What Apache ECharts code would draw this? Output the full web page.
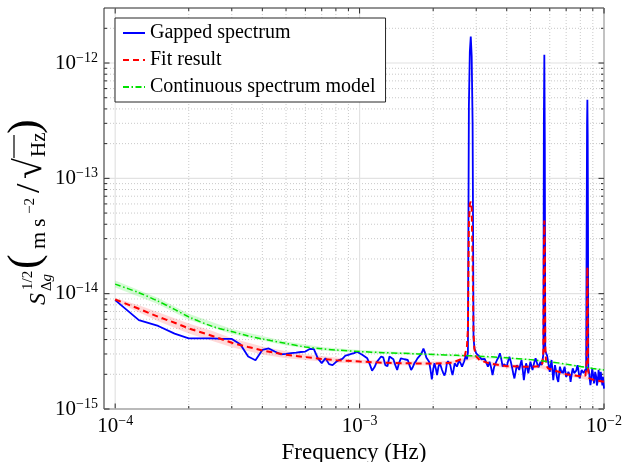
<!DOCTYPE html>
<html>
<head>
<meta charset="utf-8">
<script src="https://cdn.jsdelivr.net/npm/echarts@6/dist/echarts.min.js"></script>
<style>
  html, body { margin: 0; padding: 0; background: #fff; }
  #chart { width: 624px; height: 462px; }
</style>
</head>
<body>
<div id="chart"></div>
<script>
// frequencies in mHz, amplitudes in units of 1e-15 m s^-2 / sqrt(Hz)
var gapFreq = [
  0.100,0.125,0.150,0.175,0.200,0.225,0.250,0.275,0.300,0.325,
  0.350,0.375,0.400,0.425,0.450,0.475,0.500,0.525,0.550,0.575,
  0.600,0.625,0.650,0.675,0.700,0.725,0.750,0.775,0.800,0.825,
  0.850,0.875,0.900,0.925,0.950,0.975,1.000,1.025,1.050,1.075,
  1.100,1.125,1.150,1.175,1.200,1.225,1.250,1.275,1.300,1.325,
  1.350,1.375,1.400,1.425,1.450,1.475,1.500,1.525,1.550,1.575,
  1.600,1.625,1.650,1.675,1.700,1.725,1.750,1.775,1.800,1.825,
  1.850,1.875,1.900,1.925,1.950,1.975,2.000,2.025,2.050,2.075,
  2.100,2.125,2.150,2.175,2.200,2.225,2.250,2.275,2.300,2.325,
  2.350,2.375,2.400,2.425,2.450,2.475,2.500,2.525,2.550,2.575,
  2.600,2.625,2.650,2.675,2.700,2.725,2.750,2.775,2.800,2.825,
  2.850,2.875,2.900,2.925,2.950,2.975,3.000,
  3.050,3.100,3.150,3.200,3.250,3.300,3.350,3.400,3.450,3.500,
  3.550,3.600,3.650,3.700,3.750,3.800,3.850,3.900,3.950,4.000,
  4.050,4.100,4.150,4.200,4.250,4.300,4.350,4.400,4.450,4.500,
  4.550,4.600,4.650,4.700,4.750,4.800,4.850,4.900,4.950,5.000,
  5.050,5.100,5.150,5.200,5.250,5.300,5.350,5.400,5.450,5.500,
  5.550,5.600,5.650,5.675,5.700,5.725,5.750,5.800,5.850,5.900,
  5.950,6.000,6.050,6.100,6.150,6.200,6.250,6.300,6.350,6.400,
  6.450,6.500,6.550,6.600,6.650,6.700,6.750,6.800,6.850,6.900,
  6.950,7.000,7.050,7.100,7.150,7.200,7.250,7.300,7.350,7.400,
  7.450,7.500,7.550,7.600,7.650,7.700,7.750,7.800,7.850,7.900,
  7.950,8.000,8.050,8.100,8.150,8.200,8.250,8.300,8.350,8.400,
  8.450,8.500,8.525,8.550,8.575,8.600,8.625,8.650,8.700,8.750,
  8.800,8.850,8.900,8.950,9.000,9.050,9.100,9.150,9.200,9.250,
  9.300,9.350,9.400,9.450,9.500,9.550,9.600,9.650,9.700,9.750,
  9.800,9.850,9.900,9.950,10.00
];
var gapVal = [
  8.8,5.9,5.25,4.5,4.1,4.1,4.1,4.05,4.05,3.65,
  2.85,2.65,3.25,3.35,3.15,2.98,3.0,3.05,3.08,3.12,
  3.15,3.32,3.3,2.75,2.5,2.75,2.45,2.4,2.55,2.66,
  2.72,2.9,2.95,3.0,3.05,3.14,3.04,2.95,2.85,2.75,
  2.45,2.15,2.3,2.55,2.7,2.85,2.8,2.4,2.35,2.85,
  2.8,2.7,2.4,2.18,2.5,2.75,2.84,2.7,2.6,2.66,
  2.4,2.18,2.3,2.49,2.6,2.75,2.84,2.95,3.1,3.35,
  3.1,2.8,2.7,2.57,2.2,1.81,2.2,2.49,2.25,1.97,
  2.3,2.49,2.35,2.18,2.05,1.95,2.1,2.49,2.6,2.7,
  2.4,2.15,1.97,2.2,2.49,2.4,2.33,2.45,2.66,2.55,
  2.45,2.33,2.45,2.57,2.65,2.94,2.7,3.1,420,1250,
  1700,1150,300,4.2,3.35,3.2,3.04,
  2.95,2.84,2.7,2.66,2.72,2.75,2.33,2.57,2.3,1.97,
  2.3,2.49,2.66,2.8,3.04,2.7,2.33,2.45,2.49,2.33,
  2.6,2.84,2.6,2.33,2.05,1.84,2.1,2.4,2.3,2.18,
  2.45,2.66,2.2,1.78,2.1,2.49,2.3,2.04,2.3,2.57,
  2.35,2.18,2.4,2.6,2.75,2.7,2.4,2.3,2.45,2.57,
  2.4,2.6,3.0,320,1180,220,3.2,3.04,2.9,2.84,
  2.84,2.1,2.4,2.66,2.2,1.78,2.1,2.4,2.2,1.95,
  1.8,1.72,2.0,2.33,2.2,2.05,2.15,2.04,2.2,2.33,
  2.1,1.9,1.84,2.0,2.1,2.18,1.95,1.72,1.9,2.1,
  2.25,2.2,2.05,1.97,1.97,2.15,2.3,2.4,2.2,2.0,
  1.84,1.9,2.05,2.18,2.1,2.18,2.05,2.0,2.04,2.2,
  2.1,60,300,480,240,40,2.1,2.2,2.04,1.8,
  1.61,1.75,2.0,2.25,2.2,1.9,1.67,1.8,2.1,2.18,
  1.9,1.6,1.56,1.8,2.18,2.0,1.78,1.95,2.1,1.9,
  1.75,1.6,1.9,1.7,1.5
];

var fitFreq = [0.1,0.125,0.15,0.175,0.2,0.25,0.3,0.35,0.4,0.5,0.6,0.7,0.8,1.0,1.25,1.5,2.0,2.4,2.6,2.7,
  2.75,2.775,2.8,2.825,2.85,2.875,2.9,2.925,2.95,3.0,3.1,3.4,4.0,5.0,5.5,5.6,5.65,5.675,5.7,5.725,
  5.75,5.8,5.9,6.0,7.0,8.0,8.4,8.5,8.525,8.55,8.575,8.6,8.7,9.0,10.0];
var fitVal = [8.9,7.4,6.3,5.6,5.0,4.3,3.75,3.45,3.22,2.95,2.82,2.72,2.65,2.58,2.52,2.49,2.48,2.52,2.7,2.95,
  3.5,5,40,60,63,55,20,4.5,3.3,2.85,2.65,2.48,2.35,2.32,2.35,2.5,3.2,22,43,25,
  3.5,2.4,2.25,2.2,2.0,1.92,1.95,2.6,10,17,8,2.2,1.85,1.8,1.72];

var modelFreq = [0.1,0.125,0.15,0.175,0.2,0.25,0.3,0.35,0.4,0.5,0.6,0.7,0.8,1.0,1.25,1.5,2.0,2.5,3.0,4.0,5.0,6.0,7.0,8.0,9.0,10.0];
var modelVal  = [12.1,10.2,8.6,7.3,6.3,5.2,4.7,4.3,4.05,3.7,3.45,3.33,3.25,3.15,3.08,3.04,2.97,2.92,2.88,2.78,2.68,2.57,2.45,2.34,2.25,2.18];

var fitBandFreq = [0.1,0.125,0.15,0.2,0.25,0.3,0.4,0.5,0.6,0.8,1.0,1.5,2.0,2.4,3.0,3.4,4.0,5.0,5.5,6.0,7.0,8.0,9.0,10.0];
var fitBandLo   = [8.65,6.9,5.76,4.52,3.89,3.43,2.97,2.75,2.66,2.52,2.48,2.39,2.38,2.42,2.74,2.38,2.26,2.23,2.26,2.11,1.92,1.85,1.73,1.65];
var fitBandHi   = [9.17,7.93,6.9,5.52,4.75,4.1,3.49,3.16,2.99,2.79,2.68,2.59,2.58,2.62,2.96,2.58,2.44,2.41,2.44,2.29,2.08,1.99,1.87,1.79];

var modelBandFreq = [0.1,0.15,0.2,0.3,0.5,0.7,1.0,2.0,5.0,10.0];
var modelBandLo   = [11.3,8.1,5.95,4.47,3.55,3.22,3.06,2.91,2.63,2.14];
var modelBandHi   = [13.0,9.15,6.7,4.95,3.85,3.44,3.24,3.03,2.73,2.22];

var xMajor = [1e-4, 1e-3, 1e-2];
var xMinor = [2e-4,3e-4,4e-4,5e-4,6e-4,7e-4,8e-4,9e-4, 2e-3,3e-3,4e-3,5e-3,6e-3,7e-3,8e-3,9e-3];
var yMajor = [1e-15, 1e-14, 1e-13, 1e-12];
var yMinor = [2e-15,3e-15,4e-15,5e-15,6e-15,7e-15,8e-15,9e-15,
              2e-14,3e-14,4e-14,5e-14,6e-14,7e-14,8e-14,9e-14,
              2e-13,3e-13,4e-13,5e-13,6e-13,7e-13,8e-13,9e-13, 2e-12];

var X_MIN = 9e-5, X_MAX = 1e-2, Y_MIN = 1e-15, Y_MAX = 3e-12;
var F = "'Liberation Serif', 'DejaVu Serif', serif";
var AX = '#262626';

function pairs(fr, val) {
  return fr.map(function (f, i) { return [f * 1e-3, val[i] * 1e-15]; });
}

function powLabel(v) {
  var e = Math.log10(v), r = Math.round(e);
  if (Math.abs(e - r) > 1e-6) return '';
  return '{b|10}{s|' + (r < 0 ? '\u2212' + (-r) : r) + '}';
}

function band(fr, lo, hi, color) {
  return {
    type: 'custom', silent: true, clip: true,
    data: [[fr[0] * 1e-3, lo[0] * 1e-15]],
    renderItem: function (params, api) {
      var pts = [];
      for (var i = 0; i < fr.length; i++) pts.push(api.coord([fr[i] * 1e-3, hi[i] * 1e-15]));
      for (var j = fr.length - 1; j >= 0; j--) pts.push(api.coord([fr[j] * 1e-3, lo[j] * 1e-15]));
      return { type: 'polygon', shape: { points: pts }, style: { fill: color } };
    }
  };
}

var gridSeries = {
  type: 'custom', silent: true,
  data: [[1e-3, 1e-14]],
  renderItem: function (params, api) {
    var lb = api.coord([X_MIN, Y_MIN]), rt = api.coord([X_MAX, Y_MAX]);
    var L = lb[0], B = lb[1], R = rt[0], T = rt[1];
    var els = [];
    var minorGrid = { stroke: '#c9c9c9', lineWidth: 1, lineDash: [1, 2] };
    var majorGrid = { stroke: '#e2e2e2', lineWidth: 1.2 };
    var tick = { stroke: AX, lineWidth: 1 };
    function seg(x1, y1, x2, y2, st) {
      els.push({ type: 'line', shape: { x1: x1, y1: y1, x2: x2, y2: y2 }, style: st });
    }
    xMinor.forEach(function (v) {
      var x = api.coord([v, Y_MIN])[0];
      seg(x, T, x, B, minorGrid); seg(x, B, x, B - 3, tick); seg(x, T, x, T + 3, tick);
    });
    yMinor.forEach(function (v) {
      var y = api.coord([X_MIN, v])[1];
      seg(L, y, R, y, minorGrid); seg(L, y, L + 3, y, tick); seg(R, y, R - 3, y, tick);
    });
    xMajor.forEach(function (v) {
      var x = api.coord([v, Y_MIN])[0];
      seg(x, T, x, B, majorGrid); seg(x, B, x, B - 5.5, tick); seg(x, T, x, T + 5.5, tick);
    });
    yMajor.forEach(function (v) {
      var y = api.coord([X_MIN, v])[1];
      seg(L, y, R, y, majorGrid); seg(L, y, L + 5.5, y, tick); seg(R, y, R - 5.5, y, tick);
    });
    return { type: 'group', children: els };
  }
};

// y axis title, laid out along a rotated baseline
function tx(str, x, base, size, italic) {
  return { type: 'text', x: x, y: base - 0.34 * size,
    style: { text: str, font: (italic ? 'italic ' : '') + size + 'px ' + F, fill: '#000', verticalAlign: 'middle', align: 'left' } };
}
var yTitle = {
  type: 'group', x: 47, y: 305, rotation: Math.PI / 2, silent: true,
  children: [
    tx('S', 0, 0, 24, true),
    tx('1/2', 15, -14, 15),
    tx('\u0394', 14, 5, 15), tx('g', 23.5, 5, 15, true),
    { type: 'text', x: 36, y: -20.5, style: { text: '(', font: '44px ' + F, fill: '#000', verticalAlign: 'middle' } },
    tx('m', 56, 0, 22), tx('s', 78, 0, 22), tx('\u22122', 91, -12, 15),
    { type: 'text', x: 112, y: -17, style: { text: '/', font: '34px ' + F, fill: '#000', verticalAlign: 'middle' } },
    { type: 'text', x: 126, y: -16, style: { text: '\u221A', font: '38px ' + F, fill: '#000', verticalAlign: 'middle' } },
    { type: 'line', shape: { x1: 147, y1: -33, x2: 170, y2: -33 }, style: { stroke: '#000', lineWidth: 1.2 } },
    tx('Hz', 148, 0, 21),
    { type: 'text', x: 171, y: -20.5, style: { text: ')', font: '44px ' + F, fill: '#000', verticalAlign: 'middle' } }
  ]
};

var labelRich = {
  b: { fontFamily: F, fontSize: 21, lineHeight: 24, color: '#000' },
  s: { fontFamily: F, fontSize: 14, lineHeight: 18, verticalAlign: 'top', color: '#000' }
};

var chart = echarts.init(document.getElementById('chart'), null, { renderer: 'canvas' });
chart.setOption({
  animation: false,
  backgroundColor: '#fff',
  textStyle: { fontFamily: F },
  grid: { left: 104, right: 20, top: 8, bottom: 53, show: true, borderColor: AX, borderWidth: 1,
          backgroundColor: 'transparent', containLabel: false, outerBoundsMode: 'none' },
  legend: {
    data: ['Gapped spectrum', 'Fit result', 'Continuous spectrum model'],
    orient: 'vertical', left: 115, top: 18,
    padding: [5, 10, 5, 7], itemGap: 7, itemWidth: 22, itemHeight: 14,
    backgroundColor: '#fff', borderColor: AX, borderWidth: 1, borderRadius: 0,
    itemStyle: { opacity: 0 },
    textStyle: { fontFamily: F, fontSize: 20, lineHeight: 20, color: '#000' }
  },
  xAxis: {
    type: 'log', logBase: 10, min: X_MIN, max: X_MAX,
    axisLine: { show: false }, axisTick: { show: false }, splitLine: { show: false },
    axisLabel: { formatter: powLabel, margin: 5, rich: labelRich },
    name: 'Frequency (Hz)', nameLocation: 'middle', nameGap: 29,
    nameTextStyle: { fontFamily: F, fontSize: 23, color: '#000' }
  },
  yAxis: {
    type: 'log', logBase: 10, min: Y_MIN, max: Y_MAX,
    axisLine: { show: false }, axisTick: { show: false }, splitLine: { show: false },
    axisLabel: { formatter: powLabel, margin: 6, rich: labelRich }
  },
  graphic: { elements: [yTitle] },
  series: [
    gridSeries,
    band(modelBandFreq, modelBandLo, modelBandHi, 'rgba(0,230,0,0.17)'),
    band(fitBandFreq, fitBandLo, fitBandHi, 'rgba(255,0,0,0.15)'),
    { name: 'Gapped spectrum', type: 'line', data: pairs(gapFreq, gapVal), showSymbol: false, symbol: 'none',
      lineStyle: { color: '#0000ff', width: 1.8 }, itemStyle: { color: '#0000ff' } },
    { name: 'Fit result', type: 'line', data: pairs(fitFreq, fitVal), showSymbol: false, symbol: 'none',
      lineStyle: { color: '#ff0000', width: 2, type: [6, 4] }, itemStyle: { color: '#ff0000' } },
    { name: 'Continuous spectrum model', type: 'line', data: pairs(modelFreq, modelVal), showSymbol: false, symbol: 'none',
      smooth: 0.3,
      lineStyle: { color: '#00e000', width: 1.5, type: [6, 2.5, 1.5, 2.5] }, itemStyle: { color: '#00e000' } }
  ]
});
</script>
</body>
</html>
